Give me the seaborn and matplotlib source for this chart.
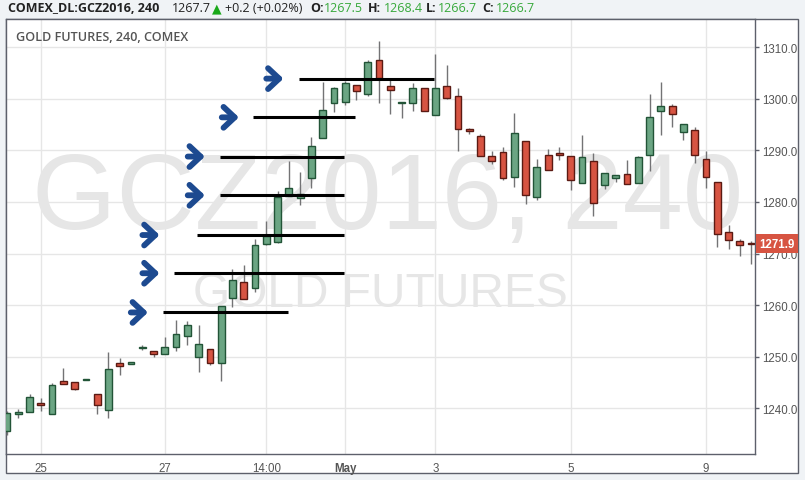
import matplotlib
matplotlib.use("Agg")
import matplotlib.pyplot as plt
import numpy as np
import seaborn as sns
from matplotlib.patches import Rectangle

# 240-minute bars, GCZ2016
opens = [1235.6, 1238.9, 1239.4, 1241.0, 1238.9, 1245.3, 1245.1, 1245.6, 1242.9, 1239.8,
         1248.8, 1248.6, 1251.7, 1251.1, 1250.5, 1251.9, 1254.0, 1249.9, 1251.5, 1248.8,
         1261.4, 1264.5, 1263.3, 1271.9, 1272.2, 1281.1, 1280.8, 1284.6, 1292.4, 1299.1,
         1299.4, 1302.7, 1300.9, 1307.5, 1302.5, 1299.1, 1299.1, 1302.1, 1296.9, 1302.5,
         1300.5, 1294.1, 1292.8, 1288.9, 1289.7, 1284.8, 1291.8, 1281.0, 1289.1, 1289.5,
         1288.9, 1283.7, 1287.9, 1283.3, 1284.6, 1285.4, 1283.7, 1289.1, 1297.6, 1298.6,
         1293.6, 1293.9, 1288.3, 1283.9, 1274.2, 1272.4, 1272.0]
highs = [1239.5, 1239.9, 1242.8, 1242.0, 1244.9, 1247.9, 1245.1, 1245.7, 1242.9, 1251.0,
         1249.8, 1249.0, 1252.2, 1251.1, 1253.8, 1257.2, 1257.0, 1256.2, 1251.5, 1259.8,
         1267.1, 1267.8, 1272.9, 1276.4, 1282.2, 1288.0, 1285.9, 1292.6, 1303.3, 1302.3,
         1303.5, 1302.7, 1307.6, 1311.1, 1304.0, 1299.4, 1303.1, 1302.1, 1308.7, 1306.5,
         1302.0, 1294.3, 1293.2, 1289.8, 1290.6, 1297.3, 1291.8, 1288.4, 1290.3, 1290.6,
         1288.9, 1293.0, 1289.5, 1285.6, 1285.2, 1288.1, 1288.9, 1301.0, 1303.3, 1298.9,
         1295.1, 1294.5, 1289.9, 1283.9, 1275.6, 1272.8, 1272.4]
lows = [1234.8, 1238.2, 1239.3, 1239.6, 1238.9, 1244.7, 1243.5, 1245.6, 1239.0, 1238.2,
        1246.4, 1248.6, 1251.4, 1249.9, 1250.5, 1251.2, 1252.2, 1247.1, 1248.5, 1245.4,
        1259.7, 1261.2, 1262.6, 1271.6, 1272.0, 1281.1, 1279.5, 1282.8, 1292.4, 1297.4,
        1298.7, 1299.7, 1300.5, 1299.2, 1297.1, 1296.3, 1297.6, 1297.6, 1296.9, 1299.9,
        1289.8, 1293.1, 1288.9, 1287.4, 1284.2, 1283.0, 1279.7, 1280.4, 1286.2, 1288.2,
        1282.4, 1283.7, 1277.3, 1282.6, 1283.8, 1283.5, 1283.7, 1286.0, 1292.9, 1294.6,
        1292.0, 1287.5, 1282.8, 1271.2, 1270.8, 1269.6, 1267.9]
closes = [1239.1, 1239.3, 1242.2, 1240.6, 1244.5, 1244.7, 1243.7, 1245.7, 1240.7, 1247.6,
          1248.2, 1249.0, 1251.9, 1250.5, 1251.9, 1254.4, 1256.2, 1252.4, 1248.8, 1259.8,
          1264.9, 1261.2, 1271.6, 1273.5, 1281.0, 1282.7, 1281.5, 1290.8, 1297.8, 1302.1,
          1303.1, 1301.5, 1307.2, 1304.1, 1301.7, 1299.3, 1302.1, 1297.6, 1302.1, 1300.2,
          1294.1, 1293.7, 1288.9, 1287.9, 1284.6, 1293.4, 1281.3, 1286.8, 1286.2, 1289.1,
          1284.2, 1288.7, 1279.8, 1285.6, 1285.2, 1283.5, 1288.7, 1296.5, 1298.6, 1297.0,
          1295.1, 1289.1, 1284.8, 1273.8, 1272.6, 1271.6, 1271.9]

# x-axis labels (bar index where each label sits)
tick_bars = [3, 14, 23, 30, 38, 50, 62]
tick_labels = ["25", "27", "14:00", "May", "3", "5", "9"]

# drawn horizontal levels and arrows
level_prices = [1258.6, 1266.2, 1273.6, 1281.3, 1288.8, 1296.4, 1303.9]
level_start = [13.84, 14.82, 16.83, 18.87, 18.87, 21.83, 25.9]
level_end = [24.9, 29.88, 29.88, 29.88, 29.88, 30.88, 37.86]
arrow_bars = [11.78, 12.81, 12.81, 16.83, 16.83, 19.85, 23.8]

last_price = 1271.9

sns.set_theme(style="white")
plt.rcParams["font.family"] = ["Liberation Sans", "DejaVu Sans"]

W, H = 805, 481
fig = plt.figure(figsize=(W / 100, H / 100), dpi=100)
fig.patch.set_facecolor("#f0f3f6")
fig.patches.append(Rectangle((6 / W, 1 - 474 / H), 792 / W, 454 / H, transform=fig.transFigure,
                             facecolor="white", edgecolor="#5d606b", lw=1, zorder=-5))
ax = fig.add_axes([6 / W, 1 - 455 / H, 749 / W, 435 / H])

o = np.array(opens)
h = np.array(highs)
l = np.array(lows)
c = np.array(closes)
idx = np.arange(len(o))
up = c >= o
bottom = np.minimum(o, c)
height = np.maximum(np.abs(c - o), 0.12)

ax.vlines(idx, l, h, color="#737375", lw=1, zorder=3)
ax.bar(idx[up], height[up], bottom=bottom[up], width=0.6, color="#6ba583",
       edgecolor="#225437", lw=1, zorder=4)
ax.bar(idx[~up], height[~up], bottom=bottom[~up], width=0.6, color="#d75442",
       edgecolor="#5b1a13", lw=1, zorder=4)

# levels and arrows
ax.hlines(level_prices, level_start, level_end, color="black", lw=2.2, zorder=5)
for xb, yp in zip(arrow_bars, level_prices):
    ax.annotate("", xy=(xb + 0.72, yp), xytext=(xb - 0.8, yp),
                arrowprops=dict(arrowstyle="->,head_length=0.8,head_width=0.75",
                                mutation_scale=10, lw=4.2, color="#1d4a90",
                                shrinkA=0, shrinkB=0, capstyle="round", joinstyle="round"),
                zorder=6)

# watermark
ax.text(0.509, 0.584, "GCZ2016, 240", transform=ax.transAxes, fontsize=78,
        color="#e6e6e6", ha="center", va="center", zorder=1)
ax.text(0.4993, 0.37, "GOLD FUTURES", transform=ax.transAxes, fontsize=34.5,
        color="#e6e6e6", ha="center", va="center", zorder=1)

ax.set_xlim(-0.09, 66.35)
ax.set_ylim(1231.18, 1315.45)
ax.set_yticks(range(1240, 1311, 10))
ax.set_yticklabels([f"{v:.1f}" for v in range(1240, 1311, 10)])
ax.yaxis.tick_right()
ax.set_xticks(tick_bars)
ax.set_xticklabels(tick_labels)
for t in ax.get_xticklabels():
    if t.get_text() == "May":
        t.set_fontweight("bold")
ax.tick_params(axis="both", direction="out", length=3, width=1, color="#5d606b",
               labelcolor="#555555", labelsize=8.3)
ax.tick_params(axis="y", pad=2)
ax.tick_params(axis="x", pad=3)
ax.grid(True, color="#e6e6e6", lw=1)
ax.set_axisbelow(True)
for s in ax.spines.values():
    s.set_color("#5d606b")
    s.set_linewidth(1)

ax.annotate(f"{last_price:.1f}", xy=(1.0, last_price), xycoords=("axes fraction", "data"),
            xytext=(3.2, 0), textcoords="offset points", ha="left", va="center",
            fontsize=8.3, fontweight="bold", color="white", annotation_clip=False,
            bbox=dict(boxstyle="square,pad=0.3", fc="#d75442", ec="none"))

# header line
green = "#37a93b"
dark = "#222222"
hdr = [(8, "COMEX_DL:GCZ2016, 240", "bold", dark),
       (172, "1267.7", "normal", dark),
       (212, "\u25b2", "normal", "#1aa91a"),
       (225, "+0.2 (+0.02%)", "normal", dark),
       (310, "O:", "bold", dark), (324, "1267.5", "normal", green),
       (368, "H:", "bold", dark), (384, "1268.4", "normal", green),
       (426, "L:", "bold", dark), (438, "1266.7", "normal", green),
       (482, "C:", "bold", dark), (496, "1266.7", "normal", green)]
for xp, txt, wt, col in hdr:
    fam = ["DejaVu Sans"] if txt == "\u25b2" else ["Open Sans", "DejaVu Sans"]
    fig.text(xp / W, 1 - 12 / H, txt, fontsize=9.0, fontweight=wt, color=col,
             family=fam, ha="left", va="baseline")
fig.text(16 / W, 1 - 41 / H, "GOLD FUTURES, 240, COMEX", fontsize=9.1, fontweight="semibold",
         color="#555555", family=["Open Sans", "DejaVu Sans"], ha="left", va="baseline")

fig.savefig("out.png", dpi=100, facecolor=fig.get_facecolor())
